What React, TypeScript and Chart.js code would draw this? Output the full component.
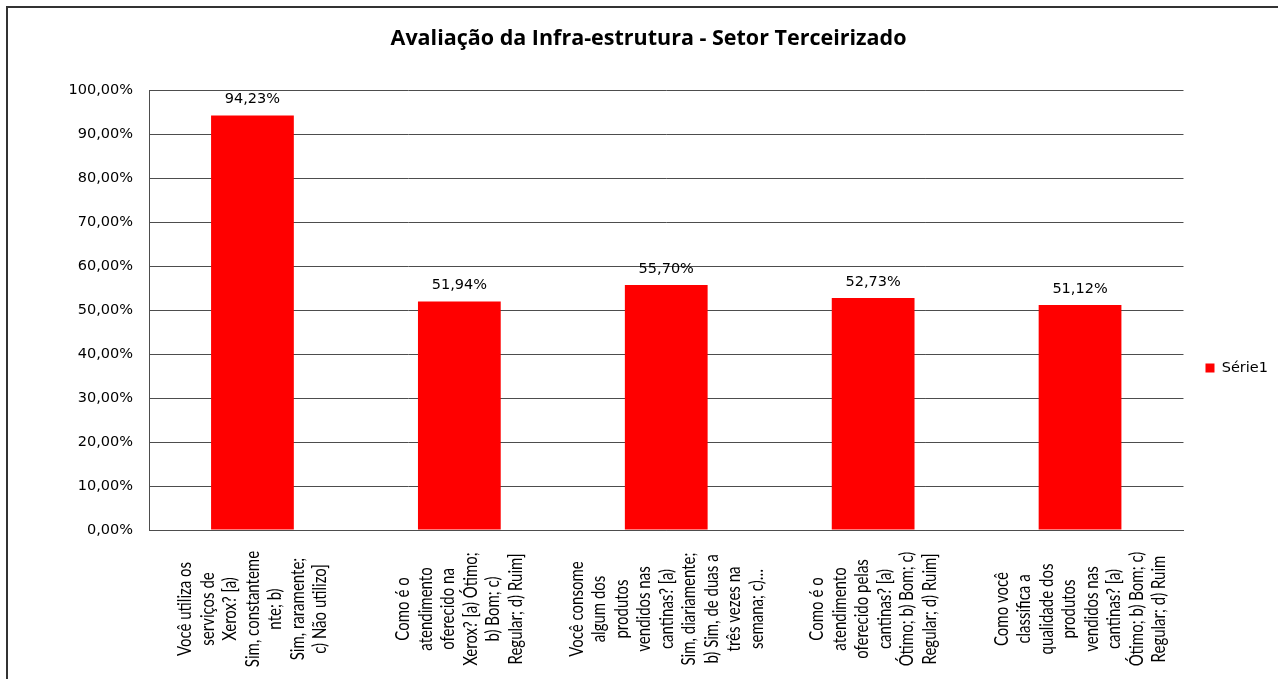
import React, { useEffect, useRef } from 'react';
import { Chart, registerables } from 'chart.js';

Chart.register(...registerables);

const TITLE = 'Avaliação da Infra-estrutura - Setor Terceirizado';
const SERIES_NAME = 'Série1';

const CATEGORIES: string[][] = [
  ['Você utiliza os', 'serviços de', 'Xerox? [a)', 'Sim, constanteme', 'nte; b)', 'Sim, raramente;', 'c) Não utilizo]'],
  ['Como é o', 'atendimento', 'oferecido na', 'Xerox? [a) Ótimo;', 'b) Bom; c)', 'Regular; d) Ruim]'],
  ['Você consome', 'algum dos', 'produtos', 'vendidos nas', 'cantinas? [a)', 'Sim, diariamente;', 'b) Sim, de duas a', 'três vezes na', 'semana; c)…'],
  ['Como é o', 'atendimento', 'oferecido pelas', 'cantinas? [a)', 'Ótimo; b) Bom; c)', 'Regular; d) Ruim]'],
  ['Como você', 'classifica a', 'qualidade dos', 'produtos', 'vendidos nas', 'cantinas? [a)', 'Ótimo; b) Bom; c)', 'Regular; d) Ruim'],
];

const VALUES: number[] = [94.23, 51.94, 55.7, 52.73, 51.12];

const Y_MIN = 0;
const Y_MAX = 100;
const Y_STEP = 10;

const fmt = (v: number) => v.toFixed(2).replace('.', ',') + '%';

const xLabelPlugin = {
  id: 'xLabelsRotated',
  afterDraw(chart: any) {
    const { ctx } = chart;
    const xs = chart.scales.x;
    const labels = chart.data.labels as string[][];
    ctx.save();
    ctx.fillStyle = '#000';
    ctx.font = '15px Lato';
    ctx.textAlign = 'center';
    ctx.textBaseline = 'middle';
    const cy = xs.top + 79;
    labels.forEach((lines, i) => {
      const x = xs.getPixelForTick(i);
      ctx.save();
      ctx.translate(x, cy);
      ctx.scale(1.3, 1);
      ctx.rotate(-Math.PI / 2);
      lines.forEach((line, j) => {
        ctx.fillText(line, 0, (j - (lines.length - 1) / 2) * 17.3);
      });
      ctx.restore();
    });
    ctx.restore();
  },
};

const valueLabelPlugin = {
  id: 'valueLabels',
  afterDatasetsDraw(chart: any) {
    const { ctx } = chart;
    const meta = chart.getDatasetMeta(0);
    const data = chart.data.datasets[0].data as number[];
    ctx.save();
    ctx.fillStyle = '#000';
    ctx.font = '14.5px "DejaVu Sans"';
    ctx.textAlign = 'center';
    ctx.textBaseline = 'middle';
    meta.data.forEach((bar: any, i: number) => {
      ctx.fillText(fmt(data[i]), bar.x, bar.y - 16);
    });
    ctx.restore();
  },
};

export default function App() {
  const canvasRef = useRef<HTMLCanvasElement | null>(null);

  useEffect(() => {
    document.body.style.background = '#fff';
    if (!canvasRef.current) return;
    const chart = new Chart(canvasRef.current, {
      type: 'bar',
      data: {
        labels: CATEGORIES as any,
        datasets: [
          {
            label: SERIES_NAME,
            data: VALUES,
            backgroundColor: '#ff0000',
            borderColor: '#ff0000',
            borderWidth: 0,
            barPercentage: 0.4,
            categoryPercentage: 1.0,
          },
        ],
      },
      options: {
        responsive: false,
        animation: false,
        layout: { padding: { top: 0, left: 11, right: 0, bottom: 0 } },
        plugins: {
          title: {
            display: true,
            text: TITLE,
            color: '#000',
            font: { family: '"Open Sans"', size: 21.5, weight: 'bold', lineHeight: 1.2 },
            padding: { top: 17.6, bottom: 38.6 },
          },
          legend: {
            position: 'right',
            align: 'center',
            labels: {
              boxWidth: 9,
              boxHeight: 9,
              padding: 22,
              color: '#000',
              font: { family: 'DejaVu Sans', size: 14.5 },
            },
          },
          tooltip: { enabled: false },
        },
        scales: {
          x: {
            grid: { display: false, drawTicks: false },
            border: { display: true, color: '#4d4d4d' },
            ticks: { display: false },
            afterFit: (s: any) => {
              s.height = 198;
            },
          },
          y: {
            min: Y_MIN,
            max: Y_MAX,
            ticks: {
              stepSize: Y_STEP,
              padding: 16,
              color: '#000',
              font: { family: 'DejaVu Sans', size: 14.5 },
              callback: (v: any) => fmt(Number(v)),
            },
            grid: { color: '#4d4d4d', drawTicks: false },
            border: { display: true, color: '#4d4d4d' },
            afterFit: (s: any) => {
              s.width = 130;
            },
          },
        },
      } as any,
      plugins: [xLabelPlugin, valueLabelPlugin],
    });
    return () => chart.destroy();
  }, []);

  return (
    <div
      style={{
        position: 'fixed',
        left: 0,
        top: 0,
        width: 1278,
        height: 679,
        overflow: 'hidden',
        background: '#fff',
      }}
    >
      <div
        style={{
          position: 'absolute',
          left: 6,
          top: 6,
          width: 1400,
          height: 800,
          borderLeft: '2px solid #333',
          borderTop: '2px solid #333',
        }}
      />
      <canvas
        ref={canvasRef}
        width={1270}
        height={720}
        style={{ position: 'absolute', left: 8, top: 8, width: 1270, height: 720 }}
      />
    </div>
  );
}
